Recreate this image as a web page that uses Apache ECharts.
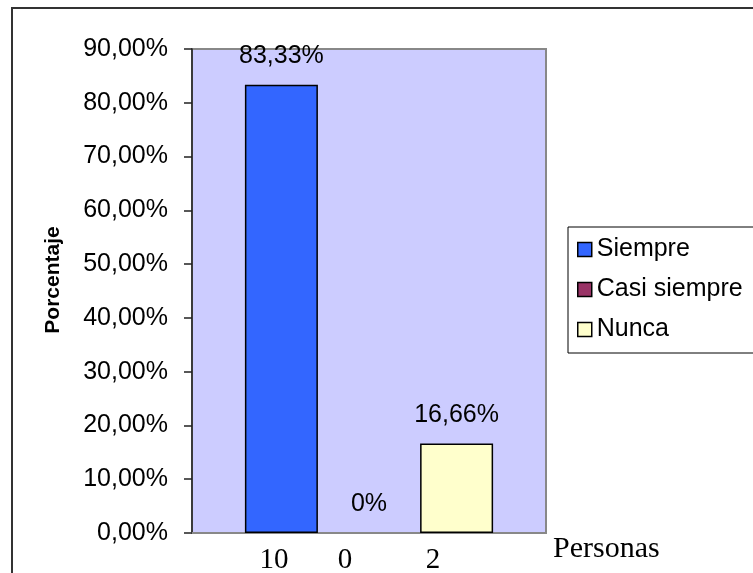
<!DOCTYPE html>
<html>
<head>
<meta charset="utf-8">
<script src="https://cdn.jsdelivr.net/npm/echarts@6/dist/echarts.min.js"></script>
<style>html,body{margin:0;padding:0;background:#fff;}#c{width:753px;height:573px;}</style>
</head>
<body>
<div id="c"></div>
<script>
const categories = ['Siempre', 'Casi siempre', 'Nunca'];
const percentages = [83.33, 0, 16.66];
const valueLabels = ['83,33%', '0%', '16,66%'];
const personCounts = ['10', '0', '2'];
const colors = ['#3366FF', '#993366', '#FFFFCC'];
const yMin = 0, yMax = 90, yInterval = 10;
const xTitle = 'Personas';
const yTitle = 'Porcentaje';

const sans = "'Liberation Sans', Arial, sans-serif";
const serif = "'Liberation Serif', 'Times New Roman', serif";
const countX = [274, 345, 433];

const chart = echarts.init(document.getElementById('c'), null, {renderer: 'canvas'});
chart.setOption({
  animation: false,
  backgroundColor: '#fff',
  grid: {left: 192, top: 49, right: 207, bottom: 40, show: true,
         backgroundColor: '#CCCCFF', borderColor: '#888', borderWidth: 2},
  xAxis: {
    type: 'category', data: ['x'],
    axisLine: {show: true, lineStyle: {color: '#888', width: 2}},
    axisTick: {show: false}, axisLabel: {show: false}, splitLine: {show: false}
  },
  yAxis: {
    type: 'value', min: yMin, max: yMax, interval: yInterval,
    name: yTitle, nameLocation: 'middle', nameGap: 128, nameRotate: 90,
    nameTextStyle: {fontFamily: sans, fontWeight: 'bold', fontSize: 21, color: '#000', padding: [0, 0, 0, 22]},
    axisLine: {show: true, lineStyle: {color: '#222', width: 1.5}},
    axisTick: {show: true, inside: false, length: 8, lineStyle: {color: '#222', width: 1.5}},
    axisLabel: {margin: 24, fontFamily: sans, fontSize: 25, color: '#000',
      formatter: v => v.toFixed(2).replace('.', ',') + '%'},
    splitLine: {show: false}
  },
  legend: {
    orient: 'vertical', left: 568, top: 227,
    borderColor: '#000', borderWidth: 1, padding: [10, 30, 11, 9],
    itemGap: 15, itemWidth: 14, itemHeight: 14,
    icon: 'rect',
    textStyle: {fontFamily: sans, fontSize: 25, color: '#000'},
    data: categories.map((n, i) => ({name: n, itemStyle: {borderColor: '#000', borderWidth: 1.5}}))
  },
  series: categories.map((name, i) => ({
    name: name, type: 'bar',
    data: [{value: percentages[i], itemStyle: {borderWidth: percentages[i] === 0 ? 0 : 1.5}}],
    barWidth: 73, barGap: '20%',
    itemStyle: {color: colors[i], borderColor: '#000', borderWidth: 1.5},
    label: {show: true, position: 'top', distance: 16, fontFamily: sans, fontSize: 25, color: '#000',
      formatter: () => valueLabels[i]}
  })),
  graphic: [
    {type: 'rect', shape: {x: 12, y: 8, width: 900, height: 700}, silent: true,
     style: {fill: 'none', stroke: '#333', lineWidth: 2}, z: 100},
    ...personCounts.map((t, i) => ({
      type: 'text', x: countX[i], y: 560,
      style: {text: t, font: '29px ' + serif, fill: '#000', textAlign: 'center', textVerticalAlign: 'middle'}
    })),
    {type: 'text', x: 553, y: 549,
     style: {text: xTitle, font: '30px ' + serif, fill: '#000', textAlign: 'left', textVerticalAlign: 'middle'}}
  ]
});
</script>
</body>
</html>
